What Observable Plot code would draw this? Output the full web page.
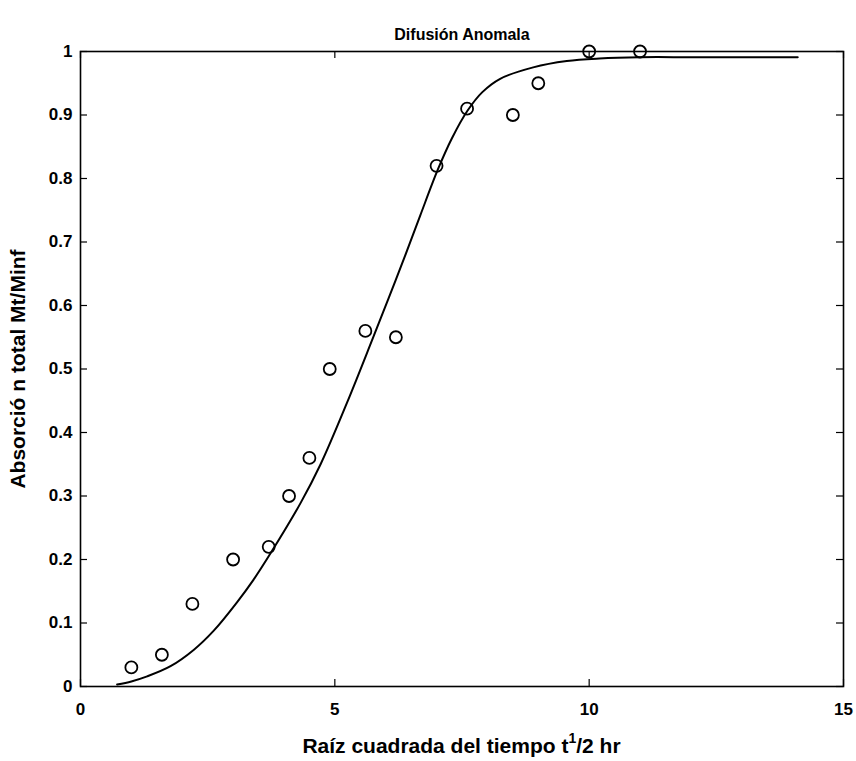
<!DOCTYPE html>
<html>
<head>
<meta charset="utf-8">
<script src="https://cdn.jsdelivr.net/npm/d3@7"></script>
<script src="https://cdn.jsdelivr.net/npm/@observablehq/plot@0.6"></script>
<style>
  html, body { margin: 0; padding: 0; background: #fff; }
</style>
</head>
<body>
<div id="chart"></div>
<script>
// Measured data (open circles)
const dataX = [1.0, 1.6, 2.2, 3.0, 3.7, 4.1, 4.5, 4.9, 5.6, 6.2, 7.0, 7.6, 8.5, 9.0, 10.0, 11.0];
const dataY = [0.03, 0.05, 0.13, 0.20, 0.22, 0.30, 0.36, 0.50, 0.56, 0.55, 0.82, 0.91, 0.90, 0.95, 1.00, 1.00];

// Fitted curve
const fitX = [0.72, 1.0, 1.31, 1.77, 2.23, 2.62, 3.08, 3.40, 3.73, 4.32, 4.72, 5.24, 5.74, 6.06, 6.38, 6.68, 7.03, 7.30, 7.61, 7.90, 8.25, 8.9, 9.56, 10.2, 11.0, 12.0, 13.0, 14.1];
const fitY = [0.003, 0.008, 0.016, 0.032, 0.058, 0.088, 0.133, 0.168, 0.209, 0.288, 0.350, 0.447, 0.547, 0.612, 0.678, 0.742, 0.815, 0.863, 0.907, 0.936, 0.957, 0.975, 0.985, 0.989, 0.991, 0.991, 0.991, 0.991];

// Axes
const xTicks = [0, 5, 10, 15];
const xTickLabels = ["0", "5", "10", "15"];
const yTicks = [0, 0.1, 0.2, 0.3, 0.4, 0.5, 0.6, 0.7, 0.8, 0.9, 1];
const yTickLabels = ["0", "0.1", "0.2", "0.3", "0.4", "0.5", "0.6", "0.7", "0.8", "0.9", "1"];

const titleText = "Difusión Anomala";
const yLabelText = "Absorció n total Mt/Minf";
const xLabelMain = "Raíz cuadrada del tiempo t";
const xLabelSup = "1";
const xLabelTail = "/2 hr";

const points = dataX.map((x, i) => ({x, y: dataY[i]}));
const curve = fitX.map((x, i) => ({x, y: fitY[i]}));

const W = 856, H = 761;
const mL = 80, mR = 13, mT = 51, mB = 75;
const frameH = H - mT - mB;
const frameW = W - mL - mR;
const tickLen = 7;
const FONT = "'Liberation Sans', Arial, sans-serif";

const chart = Plot.plot({
  width: W,
  height: H,
  marginLeft: mL,
  marginRight: mR,
  marginTop: mT,
  marginBottom: mB,
  style: {fontFamily: FONT, fontSize: "16px", fontWeight: "bold", color: "#000", background: "#fff"},
  x: {domain: [0, 15]},
  y: {domain: [0, 1]},
  marks: [
    // inward ticks: bottom & top
    Plot.tickX(xTicks, {x: d => d, insetTop: frameH - tickLen, stroke: "#000", strokeWidth: 1.2}),
    Plot.tickX(xTicks, {x: d => d, insetBottom: frameH - tickLen, stroke: "#000", strokeWidth: 1.2}),
    // inward ticks: left & right
    Plot.tickY(yTicks, {y: d => d, insetRight: frameW - tickLen, stroke: "#000", strokeWidth: 1.2}),
    Plot.tickY(yTicks, {y: d => d, insetLeft: frameW - tickLen, stroke: "#000", strokeWidth: 1.2}),
    Plot.axisX({ticks: xTicks, tickSize: 0, tickPadding: 16, tickFormat: (d) => xTickLabels[xTicks.indexOf(d)], label: null, fontSize: 17}),
    Plot.axisY({ticks: yTicks, tickSize: 0, tickPadding: 8, tickFormat: (d) => yTickLabels[yTicks.findIndex(t => Math.abs(t - d) < 1e-9)], label: null, fontSize: 17}),
    Plot.line(curve, {x: "x", y: "y", stroke: "#000", strokeWidth: 2, curve: "catmull-rom"}),
    Plot.dot(points, {x: "x", y: "y", r: 6, stroke: "#000", strokeWidth: 1.8, fill: "none"}),
    Plot.frame({stroke: "#000", strokeWidth: 1.6}),
    Plot.text([titleText], {frameAnchor: "top", dy: -23, fontSize: 16, fontWeight: "bold", fill: "#000"}),
    Plot.text([yLabelText], {frameAnchor: "left", textAnchor: "middle", dx: -62, rotate: -90, fontSize: 21, fontWeight: "bold", fill: "#000"})
  ]
});

// x label with superscript
const svg = d3.select(chart);
const xl = svg.append("text")
  .attr("x", mL + frameW / 2)
  .attr("y", H - 8)
  .attr("text-anchor", "middle")
  .attr("font-family", FONT)
  .attr("font-size", 21)
  .attr("font-weight", "bold")
  .attr("fill", "#000");
xl.append("tspan").text(xLabelMain);
xl.append("tspan").attr("dy", -10).attr("font-size", 14).text(xLabelSup);
xl.append("tspan").attr("dy", 10).text(xLabelTail);

document.getElementById("chart").appendChild(chart);
</script>
</body>
</html>
